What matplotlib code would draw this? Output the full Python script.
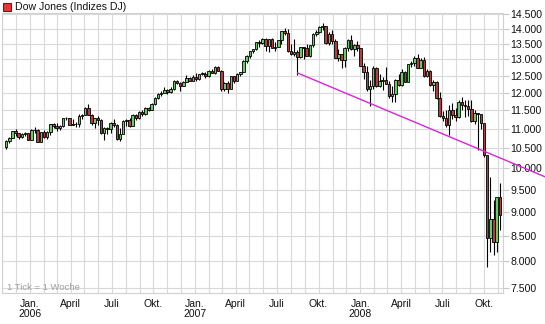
import numpy as np
import pandas as pd
import matplotlib
matplotlib.use("Agg")
import matplotlib.pyplot as plt
import matplotlib.dates as mdates
from matplotlib.patches import Rectangle

# ---------------- data (weekly OHLC, Dow Jones) ----------------
first_week = "2005-11-07"
opens = [10531,10686,10766,10931,10878,10779,10876,10884,
 10718,10959,10960,10667,10907,10794,10919,11116,11062,11022,11076,11280,11280,11109,11120,11137,11347,
 11367,11578,11380,11144,11278,11247,10891,11014,10989,11150,11090,10739,10868,11219,11240,11088,11381,
 11284,11464,11392,11560,11508,11679,11850,11961,12002,12090,12031,12108,12342,12280,12194,12307,12445,12343,
 12463,12399,12556,12565,12487,12653,12580,12767,12647,12114,12276,12110,12481,12354,12560,12612,12961,
 13121,13265,13327,13556,13507,13668,13424,13639,13360,13409,13611,13907,13851,13265,13182,13239,13079,
 13379,13358,13113,13442,13820,13896,14066,14093,13522,13807,13595,13043,13177,12981,13372,13626,13339,13451,
 13366,12800,12606,12100,12207,12743,12183,12348,12381,12266,11894,11951,12361,12216,12610,12325,12849,
 12892,13058,12745,12986,12480,12638,12210,12307,11843,11347,11288,11100,11496,11370,11326,11734,11659,
 11628,11543,11220,11422,11388,11143,10325,8451,8852,8378,9325]
highs = [10700,10780,10940,10990,10900,10900,10920,10900,
 10990,11050,10990,10920,10960,10950,11130,11160,11160,11100,11290,11330,11300,11250,11170,11400,11400,
 11600,11670,11410,11300,11350,11260,11050,11050,11190,11260,11140,11020,11240,11260,11300,11400,11390,
 11490,11520,11580,11600,11700,11880,11990,12050,12170,12120,12150,12360,12360,12300,12330,12510,12470,12510,
 12580,12560,12600,12620,12680,12700,12790,12790,12660,12300,12330,12500,12500,12570,12620,12970,13140,
 13280,13330,13560,13630,13690,13680,13660,13690,13550,13620,13920,14020,13990,13500,13660,13300,13380,
 13400,13480,13470,13850,13950,14080,14200,14100,13880,13950,13660,13330,13180,13400,13660,13780,13500,13600,
 13370,12880,12790,12380,12780,12760,12560,12450,12760,12330,12200,12400,12560,12700,12650,12860,12950,
 13100,13180,13030,13070,12690,12660,12370,12330,12010,11480,11500,11640,11700,11560,11800,11880,11800,
 11800,11790,11520,11430,11400,11140,10330,9790,9270,9320,9650]
lows = [10490,10640,10760,10800,10740,10760,10800,10700,
 10700,10900,10650,10650,10750,10740,10850,11020,10950,10960,11050,11230,11100,11100,11040,11060,11270,
 11360,11370,11100,11030,11100,10870,10700,10860,10900,11050,10720,10680,10860,11080,11060,11080,11240,
 11270,11340,11360,11480,11500,11650,11820,11900,11990,11950,12000,12080,12250,12050,12190,12300,12330,12340,
 12330,12380,12520,12420,12460,12570,12550,12630,12050,12050,12000,12100,12270,12350,12480,12600,12900,
 13040,13190,13300,13400,13500,13260,13240,13350,13250,13400,13500,13800,13240,13130,13100,12520,13050,
 13000,13100,13090,13400,13750,13860,13950,13500,13450,13480,13050,12950,12720,12750,13250,13300,13100,13250,
 12780,12400,12050,11630,12100,12150,12150,12080,12250,11850,11730,11740,12200,12200,12300,12300,12750,
 12800,12730,12740,12450,12470,12180,12050,11820,11330,11200,11050,10830,11250,11200,11300,11500,11330,
 11350,11180,11120,10460,10990,10270,7880,8180,8110,8180,8620]
closes = [10686,10766,10931,10878,10779,10876,10884,10718,
 10959,10960,10667,10907,10794,10919,11116,11062,11022,11076,11280,11280,11109,11120,11137,11347,11367,
 11578,11380,11144,11278,11247,10891,11014,10989,11150,11090,10739,10868,11219,11240,11088,11381,11284,
 11464,11392,11560,11508,11679,11850,11961,12002,12090,12031,12108,12342,12280,12194,12307,12445,12343,12463,
 12399,12556,12565,12487,12653,12580,12767,12647,12114,12276,12110,12481,12354,12560,12612,12961,13121,
 13265,13327,13556,13507,13668,13424,13639,13360,13409,13611,13907,13851,13265,13182,13239,13079,13379,
 13358,13113,13442,13820,13896,14066,14093,13522,13807,13595,13043,13177,12981,13372,13626,13339,13451,13366,
 12800,12606,12100,12207,12743,12183,12348,12381,12266,11894,11951,12361,12216,12610,12325,12849,12892,
 13058,12745,12986,12480,12638,12210,12307,11843,11347,11288,11100,11496,11370,11326,11734,11659,11628,
 11543,11220,11422,11388,11143,10325,8451,8852,8378,9325,8943]

trend_dates = ["2007-08-16", "2009-02-13"]
trend_values = [12580, 9800]

y_ticks = [7500, 8000, 8500, 9000, 9500, 10000, 10500, 11000, 11500,
           12000, 12500, 13000, 13500, 14000, 14500]
y_tick_labels = ["7.500", "8.000", "8.500", "9.000", "9.500", "10.000", "10.500",
                 "11.000", "11.500", "12.000", "12.500", "13.000", "13.500",
                 "14.000", "14.500"]
quarter_names = {1: "Jan.", 4: "April", 7: "Juli", 10: "Okt."}
title = "Dow Jones (Indizes DJ)"
note = "1 Tick = 1 Woche"

# ---------------- figure ----------------
plt.rcParams['font.family'] = ['Liberation Sans', 'DejaVu Sans']
W, H = 545, 324
fig = plt.figure(figsize=(W / 100, H / 100), dpi=100)
ax = fig.add_axes([2 / W, 1 - 293 / H, 501 / W, 280 / H])

weeks = pd.date_range(first_week, periods=len(closes), freq="7D") + pd.Timedelta(days=2)
x = mdates.date2num(weeks)

ax.set_yscale("log")
ax.set_ylim(7410, 14535)
ax.set_xlim(mdates.date2num(pd.Timestamp("2005-10-31")),
            mdates.date2num(pd.Timestamp("2008-11-12")))

up_col, down_col = "#66cc66", "#b04040"
ax.vlines(x, lows, highs, color="black", lw=0.8, zorder=3)
bw = 5.6
for xi, o, c in zip(x, opens, closes):
    lo, hi = min(o, c), max(o, c)
    if hi - lo < 10:
        hi = lo + 10
    ax.add_patch(Rectangle((xi - bw / 2, lo), bw, hi - lo,
                           facecolor=up_col if c >= o else down_col,
                           edgecolor="black", lw=0.6, zorder=4))

# trend line (extends past the axes)
ax.plot(mdates.date2num(pd.to_datetime(trend_dates)), trend_values,
        color="#dd22dd", lw=1.0, clip_on=False, zorder=5)

# grid / ticks
months = pd.date_range("2005-11-01", "2008-11-01", freq="MS")
ax.set_xticks(mdates.date2num(months))
labels = []
for m in months:
    if m.month in quarter_names:
        lab = quarter_names[m.month]
        if m.month == 1:
            lab += "\n" + str(m.year)
        labels.append(lab)
    else:
        labels.append("")
ax.set_xticklabels(labels, fontsize=7.5, color="#111111", linespacing=1.05)
ax.tick_params(axis="x", length=0, pad=4)

ax.set_yticks(y_ticks)
ax.set_yticklabels(y_tick_labels, fontsize=7.6, color="#111111")
ax.yaxis.set_minor_locator(matplotlib.ticker.NullLocator())
ax.yaxis.tick_right()
ax.tick_params(axis="y", length=4, width=0.8, color="#c8c8c8", pad=1.5)

ax.grid(True, color="#d9d9d9", lw=0.8, zorder=0)
ax.set_axisbelow(True)
for s in ax.spines.values():
    s.set_color("#d0d0d0")
    s.set_linewidth(0.8)

ax.text(mdates.date2num(pd.Timestamp("2005-11-12")), 7500, note,
        fontsize=6.8, color="#a0a0a0", va="center", ha="left", zorder=2)

# title with red square
fig.patches.append(Rectangle((3 / W, 1 - 11 / H), 8 / W, 8 / H,
                             transform=fig.transFigure, facecolor="#e83535",
                             edgecolor="#602020", lw=0.8))
fig.text(15 / W, 1 - 7 / H, title, fontsize=7.6, color="#111111",
         va="center", ha="left")

fig.savefig("out.png", dpi=100)
